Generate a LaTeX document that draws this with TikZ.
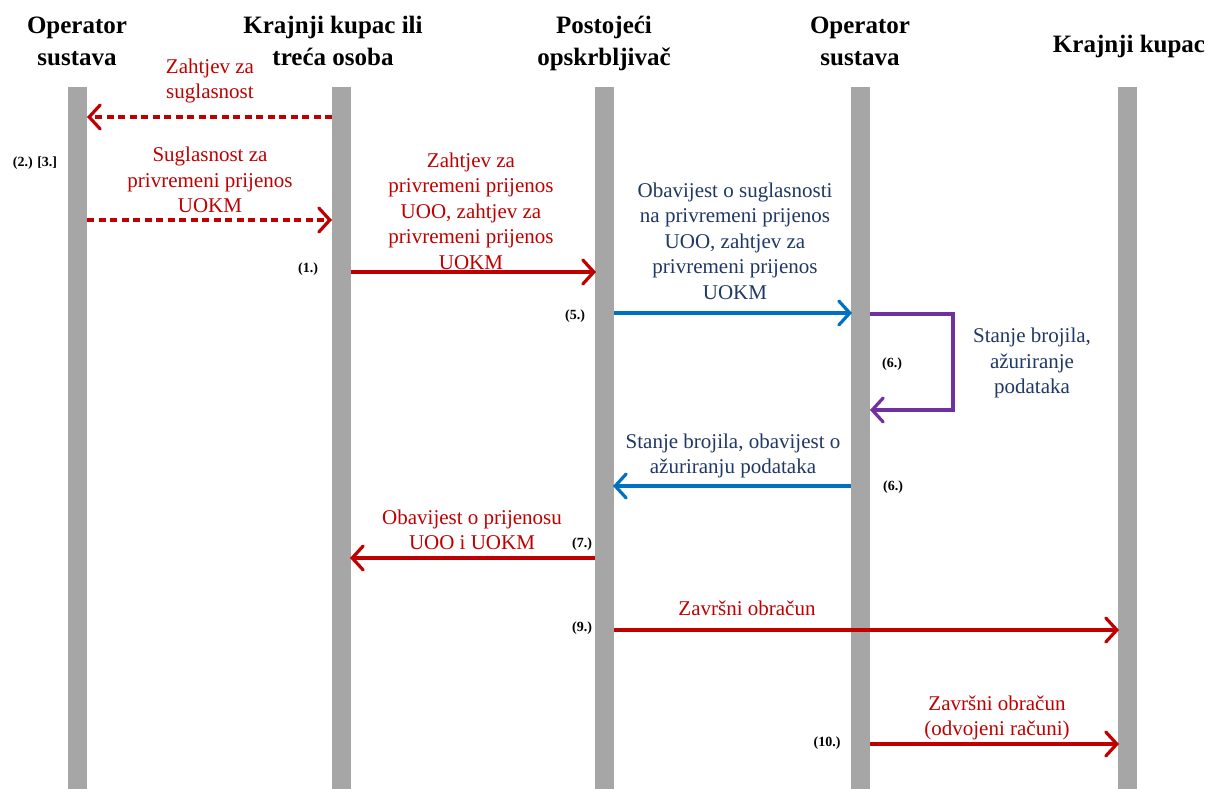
\documentclass[tikz,border=0pt]{standalone}
\usepackage{fontspec}
\setmainfont{Liberation Serif}
\usetikzlibrary{arrows.meta}
\definecolor{cred}{HTML}{C00000}
\definecolor{cblue}{HTML}{0070C0}
\definecolor{cnavy}{HTML}{1F3864}
\definecolor{cpurple}{HTML}{7030A0}
\definecolor{cbar}{HTML}{A6A6A6}
\begin{document}
\begin{tikzpicture}[x=1pt,y=-1pt,
  lifeline/.style={fill=cbar, draw=none, minimum width=19pt, minimum height=702pt, inner sep=0pt, outer sep=0pt, anchor=north},
  head/.style={font=\fontsize{25}{32}\selectfont\bfseries, align=center, inner sep=0pt},
  msg/.style={font=\fontsize{21}{25.5}\selectfont, align=center, inner sep=0pt},
  redmsg/.style={msg, text=cred},
  bluemsg/.style={msg, text=cnavy},
  num/.style={font=\fontsize{14}{16}\selectfont\bfseries, inner sep=0pt},
  arr/.style={line width=3.2pt, -{Straight Barb[length=11pt,width=24pt,line cap=round]}},
  redarr/.style={arr, draw=cred},
  dasharr/.style={redarr, dash pattern=on 7pt off 4.5pt},
  bluearr/.style={arr, draw=cblue},
  purplearr/.style={arr, draw=cpurple, line join=miter}
]
\useasboundingbox (0,0) rectangle (1211,789);
\fill[white] (0,0) rectangle (1211,789);

% headers
\node[head] (h1) at (77,41) {Operator\\sustava};
\node[head] (h2) at (333,41) {Krajnji kupac ili\\treća osoba};
\node[head] (h3) at (604,43) {Postojeći\\opskrbljivač};
\node[head] (h4) at (860,41) {Operator\\sustava};
\node[head] (h5) at (1129,46) {Krajnji kupac};

% lifelines
\node[lifeline] (L1) at (77.5,87) {};
\node[lifeline] (L2) at (341.5,87) {};
\node[lifeline] (L3) at (604.5,87) {};
\node[lifeline] (L4) at (860.5,87) {};
\node[lifeline] (L5) at (1127.5,87) {};

% endpoints
\coordinate (a1s) at (332,117);   \coordinate (a1e) at (87,117);
\coordinate (a2s) at (87,220);    \coordinate (a2e) at (332,220);
\coordinate (a3s) at (351,272);   \coordinate (a3e) at (596,272);
\coordinate (a4s) at (614,313);   \coordinate (a4e) at (852,313);
\coordinate (a5s) at (870,314);   \coordinate (a5c1) at (953,314);
\coordinate (a5c2) at (953,410);  \coordinate (a5e) at (870,410);
\coordinate (a6s) at (851,486);   \coordinate (a6e) at (613,486);
\coordinate (a7s) at (595,558);   \coordinate (a7e) at (350,558);
\coordinate (a8s) at (614,630);   \coordinate (a8e) at (1119,630);
\coordinate (a9s) at (870,744);   \coordinate (a9e) at (1119,744);

% connectors
\draw[dasharr] (a1s) -- (a1e);
\draw[dasharr] (a2s) -- (a2e);
\draw[redarr] (a3s) -- (a3e);
\draw[bluearr] (a4s) -- (a4e);
\draw[purplearr] (a5s) -- (a5c1) -- (a5c2) -- (a5e);
\draw[bluearr] (a6s) -- (a6e);
\draw[redarr] (a7s) -- (a7e);
\draw[redarr] (a8s) -- (a8e);
\draw[redarr] (a9s) -- (a9e);

% message labels
\node[redmsg] (m1) at (210,81) {Zahtjev za\\suglasnost};
\node[redmsg] (m2) at (210,180) {Suglasnost za\\privremeni prijenos\\UOKM};
\node[redmsg] (m3) at (471,211) {Zahtjev za\\privremeni prijenos\\UOO, zahtjev za\\privremeni prijenos\\UOKM};
\node[bluemsg] (m4) at (735,241) {Obavijest o suglasnosti\\na privremeni prijenos\\UOO, zahtjev za\\privremeni prijenos\\UOKM};
\node[bluemsg] (m5) at (1032,363) {Stanje brojila,\\ažuriranje\\podataka};
\node[bluemsg] (m6) at (733,456) {Stanje brojila, obavijest o\\ažuriranju podataka};
\node[redmsg] (m7) at (472,530) {Obavijest o prijenosu\\UOO i UOKM};
\node[redmsg] (m8) at (747,608) {Završni obračun};
\node[redmsg] (m9) at (997,718) {Završni obračun\\(odvojeni računi)};

% step numbers
\node[num] (n23) at (35,163) {(2.) [3.]};
\node[num] (n1) at (308,269) {(1.)};
\node[num] (n5) at (575,316) {(5.)};
\node[num] (n6a) at (892,364) {(6.)};
\node[num] (n6b) at (893,487) {(6.)};
\node[num] (n7) at (582,544) {(7.)};
\node[num] (n9) at (582,628) {(9.)};
\node[num] (n10) at (827,743) {(10.)};
\end{tikzpicture}
\end{document}
